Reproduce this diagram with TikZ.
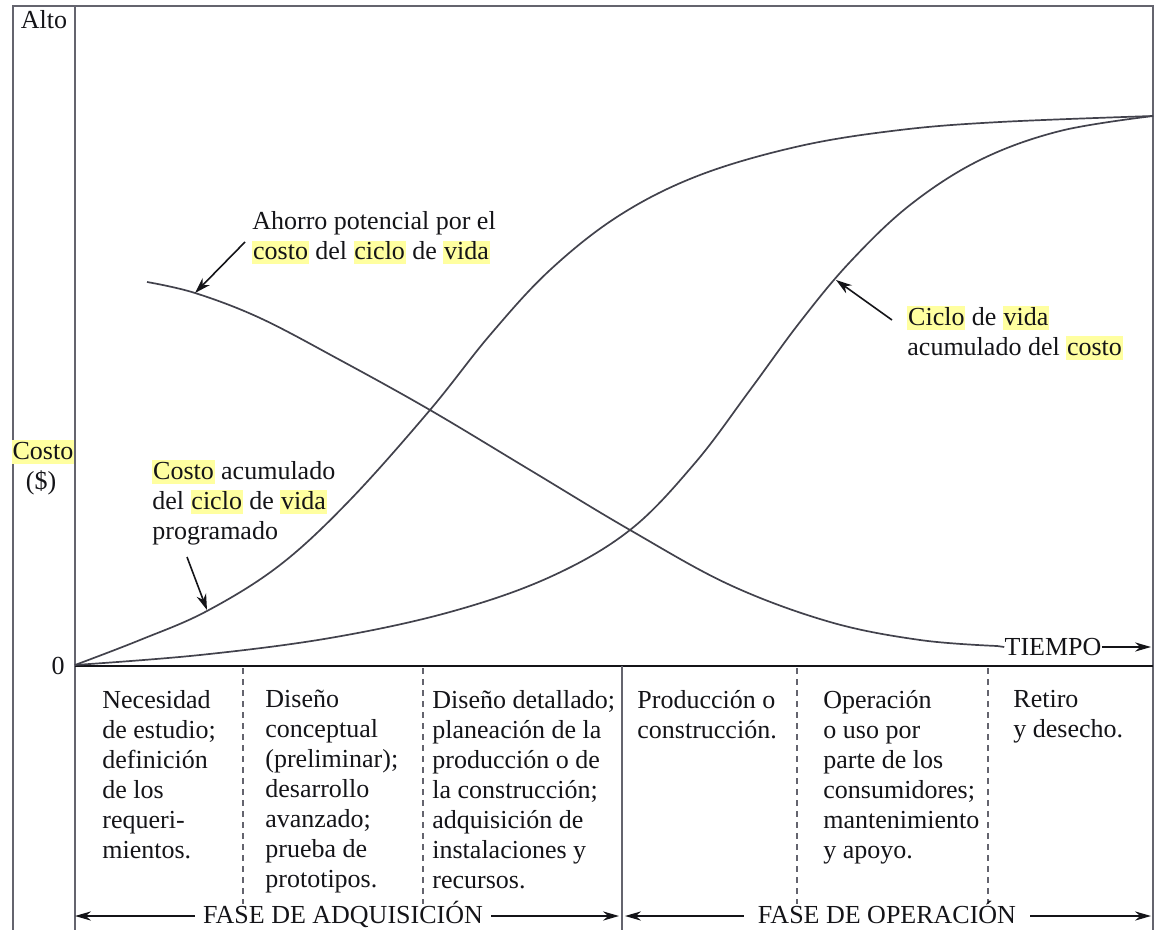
\documentclass[tikz,border=0pt]{standalone}
\usepackage{fontspec}
\setmainfont{Liberation Serif}
\usetikzlibrary{arrows.meta}

\definecolor{ink}{HTML}{141418}
\definecolor{curvegray}{HTML}{42424C}
\definecolor{framegray}{HTML}{64646E}
\definecolor{hlyellow}{RGB}{255,255,160}

% pale yellow marker behind a word
\newcommand\hlword[1]{{\setlength{\fboxsep}{0.4pt}\colorbox{hlyellow}{\rule[-1.8pt]{0pt}{10.8pt}#1}}}

\tikzset{
  frameline/.style={draw=framegray, line width=0.95pt},
  axisline/.style={draw=ink, line width=1.2pt},
  curveline/.style={draw=curvegray, line width=0.85pt},
  sepline/.style={draw=framegray, line width=0.75pt, dash pattern=on 3pt off 2.5pt},
  pointer/.style={draw=ink, line width=0.8pt, -{Stealth[length=8pt,width=5pt]}},
  phasearrow/.style={draw=ink, line width=0.8pt, -{Stealth[length=8pt,width=4.6pt]}},
  lbl/.style={font=\fontsize{13}{15}\selectfont, text=ink, inner sep=0pt},
  coltext/.style={lbl, align=left, anchor=north west},
}

\begin{document}
\begin{tikzpicture}[x=0.5pt,y=-0.5pt]
\useasboundingbox (0,0) rectangle (1155,930);

% frame and axes
\draw[frameline] (13,930) -- (13,6) -- (1153,6) -- (1153,930);
\draw[frameline] (75,6) -- (75,930);
\draw[axisline] (75,666) -- (1153,666);

% phase separators
\draw[sepline] (243,668) -- (243,904);
\draw[sepline] (423,668) -- (423,904);
\draw[frameline] (622,666) -- (622,930);
\draw[sepline] (797,668) -- (797,904);
\draw[sepline] (988,668) -- (988,904);

% axis labels
\node[lbl] (alto) at (44,20) {Alto};
\node[lbl] (costo) at (43,452) {\hlword{Costo}};
\node[lbl] (dolar) at (41,483) {(\$)};
\node[lbl] (cero) at (58,666) {0};

% programmed cumulative life-cycle cost
\draw[curveline] plot[smooth, tension=0.6] coordinates {
  (75,665) (140,640) (207,611) (280,565) (350,500) (430,410) (490,335)
  (550,270) (620,215) (700,175) (800,146) (900,130) (1000,122) (1153,116)};

% actual cumulative life-cycle cost
\draw[curveline] plot[smooth, tension=0.6] coordinates {
  (75,665) (200,655) (330,638) (450,612) (550,577) (630,530) (695,463)
  (750,390) (800,322) (850,262) (910,205) (980,160) (1060,131) (1153,116)};

% potential savings
\draw[curveline] plot[smooth, tension=0.6] coordinates {
  (147,282) (195,293) (260,318) (340,360) (430,410) (530,470) (630,530)
  (730,585) (830,622) (920,640) (997,646)};

% time axis label
\node[lbl] (tiempo) at (1053,647) {TIEMPO};
\coordinate (savEnd) at (997,646);
\coordinate (timeTip) at (1151,647);
\draw[curveline] (savEnd) -- (tiempo.west);
\draw[phasearrow] (tiempo.east) -- (timeTip);

% curve labels and pointers
\node[coltext] (ahorro) at (252,211)
  {Ahorro potencial por el\\\hlword{costo} del \hlword{ciclo} de \hlword{vida}};
\coordinate (ahorroTail) at (245,242);
\coordinate (ahorroTip) at (195,293);
\draw[pointer] (ahorroTail) -- (ahorroTip);

\node[coltext] (ciclo) at (907,306)
  {\hlword{Ciclo} de \hlword{vida}\\acumulado del \hlword{costo}};
\coordinate (cicloTail) at (892,320);
\coordinate (cicloTip) at (836,280);
\draw[pointer] (cicloTail) -- (cicloTip);

\node[coltext] (programado) at (152,460)
  {\hlword{Costo} acumulado\\del \hlword{ciclo} de \hlword{vida}\\programado};
\coordinate (progTail) at (187,557);
\coordinate (progTip) at (207,610);
\draw[pointer] (progTail) -- (progTip);

% phase descriptions
\node[coltext] (c1) at (102,690) {Necesidad\\de estudio;\\definición\\de los\\requeri-\\mientos.};
\node[coltext] (c2) at (265,690) {Diseño\\conceptual\\(preliminar);\\desarrollo\\avanzado;\\prueba de\\prototipos.};
\node[coltext] (c3) at (432,690) {Diseño detallado;\\planeación de la\\producción o de\\la construcción;\\adquisición de\\instalaciones y\\recursos.};
\node[coltext] (c4) at (637,690) {Producción o\\construcción.};
\node[coltext] (c5) at (823,690) {Operación\\o uso por\\parte de los\\consumidores;\\mantenimiento\\y apoyo.};
\node[coltext] (c6) at (1013,690) {Retiro\\y desecho.};

% phase arrows
\node[lbl, anchor=base] (adq) at (343,923) {FASE DE ADQUISICIÓN};
\node[lbl, anchor=base] (ope) at (887,923) {FASE DE OPERACIÓN};
\coordinate (adqLeft) at (75,916);
\coordinate (adqRight) at (619,916);
\coordinate (opeLeft) at (625,916);
\coordinate (opeRight) at (1151,916);
\draw[phasearrow] ([shift={(-8,-7)}]adq.base west) -- (adqLeft);
\draw[phasearrow] ([shift={(8,-7)}]adq.base east) -- (adqRight);
\draw[phasearrow] ([shift={(-14,-7)}]ope.base west) -- (opeLeft);
\draw[phasearrow] ([shift={(14,-7)}]ope.base east) -- (opeRight);
\end{tikzpicture}
\end{document}
